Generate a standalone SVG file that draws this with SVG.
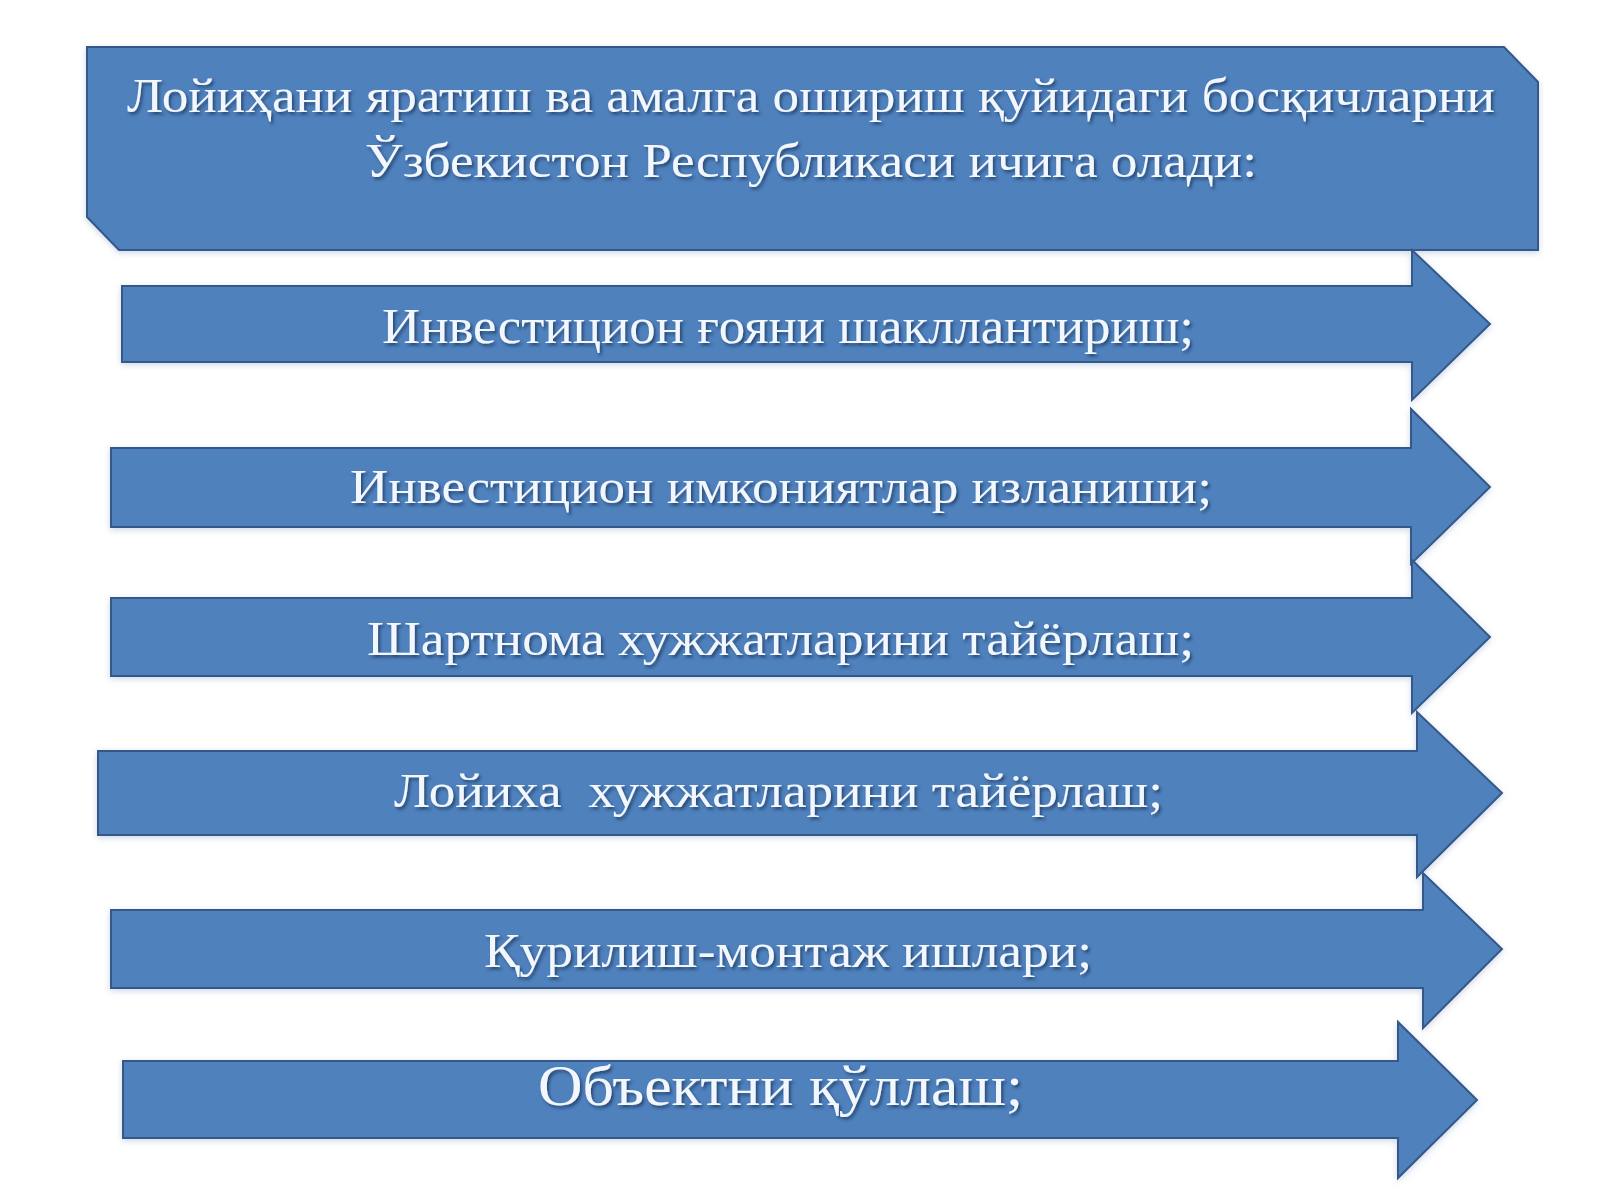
<svg xmlns="http://www.w3.org/2000/svg" width="1600" height="1200" viewBox="0 0 1600 1200">
<defs>
<filter id="shapeShadow" x="-5%" y="-20%" width="110%" height="140%">
<feDropShadow dx="0" dy="2" stdDeviation="3" flood-color="#6d8fb8" flood-opacity="0.35"/>
</filter>
<filter id="textShadow" x="-5%" y="-30%" width="110%" height="160%">
<feDropShadow dx="2" dy="2.5" stdDeviation="1.5" flood-color="#1c365c" flood-opacity="0.75"/>
</filter>
</defs>
<style>
.shape{fill:#4f81bd;stroke:#34598a;stroke-width:2;stroke-linejoin:miter;filter:url(#shapeShadow)}
.lbl{font-family:"Liberation Serif","DejaVu Serif",serif;fill:#f1f7fd;filter:url(#textShadow);white-space:pre}
</style>
<rect x="0" y="0" width="1600" height="1200" fill="#ffffff"/>

<g id="header">
<path class="shape" d="M87,47 L1504,47 L1538,82 L1538,250 L119,250 L87,217 Z"/>
<text class="lbl" x="127" y="112" font-size="48" textLength="1368" lengthAdjust="spacingAndGlyphs">Лойиҳани яратиш ва амалга ошириш қуйидаги босқичларни</text>
<text class="lbl" x="365" y="177" font-size="48" textLength="892" lengthAdjust="spacingAndGlyphs">Ўзбекистон Республикаси ичига олади:</text>
</g>

<g id="step1">
<path class="shape" d="M122,286 L1412,286 L1412,250 L1490,324 L1412,400 L1412,362 L122,362 Z"/>
<text class="lbl" x="382" y="343" font-size="50" textLength="812" lengthAdjust="spacingAndGlyphs">Инвестицион ғояни шакллантириш;</text>
</g>

<g id="step2">
<path class="shape" d="M111,448 L1411,448 L1411,409 L1490,487 L1411,564 L1411,527 L111,527 Z"/>
<text class="lbl" x="350" y="503" font-size="49" textLength="862" lengthAdjust="spacingAndGlyphs">Инвестицион имкониятлар изланиши;</text>
</g>

<g id="step3">
<path class="shape" d="M111,598 L1412,598 L1412,560 L1490,637 L1412,713 L1412,676 L111,676 Z"/>
<text class="lbl" x="367" y="655" font-size="49" textLength="827" lengthAdjust="spacingAndGlyphs">Шартнома хужжатларини тайёрлаш;</text>
</g>

<g id="step4">
<path class="shape" d="M98,751 L1417,751 L1417,712 L1502,793 L1417,877 L1417,835 L98,835 Z"/>
<text class="lbl" x="394" y="807" font-size="49" textLength="769" lengthAdjust="spacingAndGlyphs">Лойиха  хужжатларини тайёрлаш;</text>
</g>

<g id="step5">
<path class="shape" d="M111,910 L1423,910 L1423,873 L1502,949 L1423,1028 L1423,988 L111,988 Z"/>
<text class="lbl" x="484" y="967" font-size="49" textLength="608" lengthAdjust="spacingAndGlyphs">Қурилиш-монтаж ишлари;</text>
</g>

<g id="step6">
<path class="shape" d="M123,1061 L1398,1061 L1398,1022 L1477,1100 L1398,1178 L1398,1138 L123,1138 Z"/>
<text class="lbl" x="538" y="1105" font-size="58" textLength="485" lengthAdjust="spacingAndGlyphs">Объектни қўллаш;</text>
</g>

<g id="connectors"></g>
</svg>
